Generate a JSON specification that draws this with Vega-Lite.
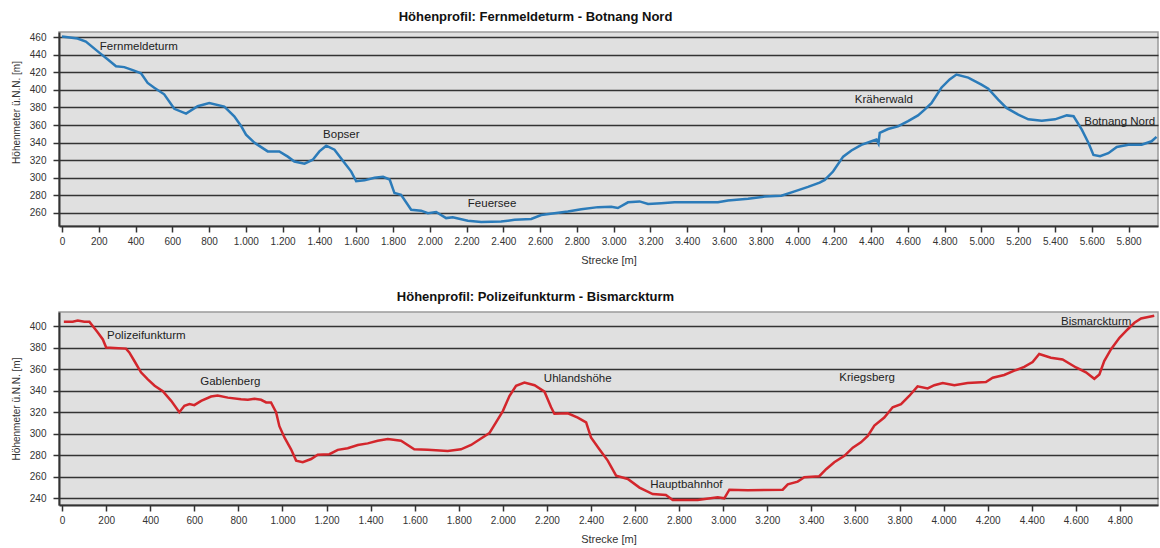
{
  "$schema": "https://vega.github.io/schema/vega-lite/v6.json",
  "background": "white",
  "padding": {"left": 10, "top": 10, "right": 2, "bottom": 0},
  "spacing": 24,
  "config": {
    "font": "Liberation Sans",
    "view": {"fill": "#e0e0e0", "stroke": "#9a9a9a", "strokeWidth": 1.5},
    "axis": {
      "labelFont": "Liberation Sans", "labelFontSize": 10, "labelColor": "#333333",
      "titleFont": "Liberation Sans", "titleFontSize": 10, "titleFontWeight": "normal", "titleColor": "#333333",
      "domainColor": "#333333", "domainWidth": 2, "tickColor": "#333333", "tickWidth": 1.5, "tickSize": 6,
      "tickCount": 60, "labelOverlap": false
    },
    "axisX": {"titleFontSize": 11},
    "title": {"font": "Liberation Sans", "fontSize": 13, "fontWeight": "bold", "color": "#111111"}
  },
  "datasets": {
    "top": [
      {"m":0,"h":461},{"m":85,"h":458.5},{"m":130,"h":455},{"m":203,"h":442.5},{"m":248,"h":435},{"m":294,"h":427},{"m":339,"h":426},{"m":385,"h":422.5},{"m":430,"h":419},{"m":466,"h":408},{"m":502,"h":402.5},{"m":556,"h":395},{"m":611,"h":378.5},{"m":675,"h":373},{"m":738,"h":381.5},{"m":801,"h":385},{"m":883,"h":381},{"m":937,"h":370},{"m":974,"h":359},{"m":1001,"h":349},{"m":1046,"h":340},{"m":1119,"h":330},{"m":1182,"h":330},{"m":1228,"h":324},{"m":1264,"h":318.5},{"m":1319,"h":316},{"m":1364,"h":320.5},{"m":1400,"h":330},{"m":1437,"h":336.5},{"m":1482,"h":332},{"m":1536,"h":317},{"m":1573,"h":307},{"m":1600,"h":296},{"m":1645,"h":297},{"m":1700,"h":300},{"m":1746,"h":301},{"m":1782,"h":298},{"m":1808,"h":282.5},{"m":1844,"h":280.5},{"m":1899,"h":263.5},{"m":1953,"h":262.5},{"m":1990,"h":259.5},{"m":2035,"h":261},{"m":2089,"h":254},{"m":2125,"h":255},{"m":2207,"h":251},{"m":2280,"h":249.5},{"m":2388,"h":250},{"m":2461,"h":252},{"m":2552,"h":253},{"m":2606,"h":257.5},{"m":2678,"h":259.5},{"m":2751,"h":261.5},{"m":2824,"h":264},{"m":2915,"h":266.5},{"m":2987,"h":267},{"m":3023,"h":265.5},{"m":3078,"h":272},{"m":3141,"h":273},{"m":3187,"h":270},{"m":3259,"h":271},{"m":3331,"h":272},{"m":3458,"h":272},{"m":3567,"h":272},{"m":3622,"h":274},{"m":3731,"h":276},{"m":3821,"h":278.5},{"m":3912,"h":279.5},{"m":3984,"h":284.5},{"m":4057,"h":289.5},{"m":4120,"h":294.5},{"m":4148,"h":297.5},{"m":4193,"h":307},{"m":4248,"h":324},{"m":4293,"h":331},{"m":4347,"h":337.5},{"m":4402,"h":341.5},{"m":4429,"h":343.5},{"m":4440,"h":339},{"m":4447,"h":351},{"m":4492,"h":355.5},{"m":4546,"h":358.5},{"m":4601,"h":364.5},{"m":4655,"h":371},{"m":4691,"h":377.5},{"m":4728,"h":385},{"m":4782,"h":402.5},{"m":4827,"h":412},{"m":4864,"h":417.5},{"m":4928,"h":414},{"m":5000,"h":406},{"m":5037,"h":401.5},{"m":5091,"h":389},{"m":5136,"h":379.5},{"m":5200,"h":372},{"m":5255,"h":366.5},{"m":5328,"h":365},{"m":5400,"h":366.5},{"m":5464,"h":371},{"m":5501,"h":370},{"m":5545,"h":355},{"m":5582,"h":339.5},{"m":5609,"h":326},{"m":5645,"h":324.5},{"m":5690,"h":328},{"m":5736,"h":335},{"m":5799,"h":337.5},{"m":5871,"h":337.5},{"m":5925,"h":341.5},{"m":5952,"h":346.5}
    ],
    "bottom": [
      {"m":8,"h":404},{"m":48,"h":404},{"m":71,"h":405},{"m":101,"h":404},{"m":124,"h":404},{"m":139,"h":400},{"m":162,"h":394},{"m":185,"h":387.5},{"m":200,"h":380},{"m":237,"h":379.5},{"m":290,"h":379},{"m":305,"h":375.5},{"m":328,"h":367.5},{"m":358,"h":357},{"m":389,"h":350.5},{"m":420,"h":344.5},{"m":457,"h":339.5},{"m":495,"h":330.5},{"m":532,"h":320},{"m":555,"h":326},{"m":578,"h":327.5},{"m":600,"h":326.5},{"m":631,"h":330.5},{"m":676,"h":334.5},{"m":706,"h":335.5},{"m":752,"h":333.5},{"m":812,"h":332},{"m":843,"h":331.5},{"m":873,"h":332.5},{"m":903,"h":331.5},{"m":926,"h":329},{"m":948,"h":329},{"m":971,"h":320},{"m":986,"h":307},{"m":1009,"h":296.5},{"m":1039,"h":285.5},{"m":1062,"h":275},{"m":1092,"h":273.5},{"m":1130,"h":276.5},{"m":1160,"h":280.5},{"m":1213,"h":281},{"m":1251,"h":285},{"m":1296,"h":286.5},{"m":1342,"h":289.5},{"m":1387,"h":291},{"m":1432,"h":293.5},{"m":1478,"h":295},{"m":1538,"h":293.5},{"m":1598,"h":285.5},{"m":1659,"h":285},{"m":1750,"h":284},{"m":1810,"h":285.5},{"m":1856,"h":289.5},{"m":1901,"h":295.5},{"m":1939,"h":300.5},{"m":1969,"h":310.5},{"m":2000,"h":321},{"m":2030,"h":335},{"m":2060,"h":344.5},{"m":2098,"h":347.5},{"m":2144,"h":345},{"m":2189,"h":339},{"m":2219,"h":324.5},{"m":2234,"h":318.5},{"m":2295,"h":319},{"m":2340,"h":315},{"m":2378,"h":310.5},{"m":2400,"h":296.5},{"m":2438,"h":285.5},{"m":2476,"h":275},{"m":2514,"h":261},{"m":2567,"h":258},{"m":2620,"h":250},{"m":2680,"h":244},{"m":2740,"h":243},{"m":2771,"h":238.5},{"m":2884,"h":238.5},{"m":2975,"h":241},{"m":3005,"h":240},{"m":3028,"h":248},{"m":3111,"h":247.5},{"m":3270,"h":248},{"m":3293,"h":253},{"m":3338,"h":255.5},{"m":3368,"h":259.5},{"m":3436,"h":260.5},{"m":3467,"h":267},{"m":3504,"h":273.5},{"m":3550,"h":279.5},{"m":3588,"h":287},{"m":3625,"h":292},{"m":3656,"h":298},{"m":3686,"h":307.5},{"m":3731,"h":315},{"m":3769,"h":324.5},{"m":3807,"h":327.5},{"m":3844,"h":335},{"m":3882,"h":344},{"m":3928,"h":342},{"m":3958,"h":345},{"m":3996,"h":347},{"m":4049,"h":345},{"m":4109,"h":347},{"m":4192,"h":348},{"m":4223,"h":352},{"m":4275,"h":354.5},{"m":4321,"h":358.5},{"m":4366,"h":362},{"m":4404,"h":366.5},{"m":4434,"h":374},{"m":4487,"h":370.5},{"m":4540,"h":369},{"m":4601,"h":361.5},{"m":4646,"h":357},{"m":4684,"h":351},{"m":4707,"h":355},{"m":4729,"h":367.5},{"m":4760,"h":378.5},{"m":4798,"h":389},{"m":4836,"h":397},{"m":4866,"h":403},{"m":4896,"h":407},{"m":4956,"h":409.5}
    ],
    "topLabels": [
      {"m":206,"h":449,"name":"Fernmeldeturm"},
      {"m":1420,"h":349,"name":"Bopser"},
      {"m":2207,"h":270,"name":"Feuersee"},
      {"m":4311,"h":389,"name":"Kräherwald"},
      {"m":5559,"h":363,"name":"Botnang Nord"}
    ],
    "bottomLabels": [
      {"m":204,"h":391,"name":"Polizeifunkturm"},
      {"m":627,"h":348.3,"name":"Gablenberg"},
      {"m":2186,"h":350.8,"name":"Uhlandshöhe"},
      {"m":2669,"h":252,"name":"Hauptbahnhof"},
      {"m":3527,"h":352,"name":"Kriegsberg"},
      {"m":4533,"h":404,"name":"Bismarckturm"}
    ]
  },
  "vconcat": [
    {
      "title": {"text": "Höhenprofil: Fernmeldeturm - Botnang Nord", "anchor": "middle", "dx": -73, "baseline": "alphabetic", "offset": -2},
      "width": 1099,
      "height": 194,
      "layer": [
        {
          "data": {"name": "top"},
          "mark": {"type": "line", "color": "#2b7bb9", "strokeWidth": 2.5, "clip": true},
          "encoding": {
            "x": {"field": "m", "type": "quantitative", "scale": {"domain": [-16, 5960], "nice": false, "zero": false},
                  "axis": {"title": "Strecke [m]", "values": [0,200,400,600,800,1000,1200,1400,1600,1800,2000,2200,2400,2600,2800,3000,3200,3400,3600,3800,4000,4200,4400,4600,4800,5000,5200,5400,5600,5800],
                           "labelExpr": "replace(format(datum.value, ','), ',', '.')", "grid": false, "labelPadding": 4, "titlePadding": 8}},
            "y": {"field": "h", "type": "quantitative", "scale": {"domain": [245, 466], "nice": false, "zero": false},
                  "axis": {"title": "Höhenmeter ü.N.N. [m]", "values": [260,280,300,320,340,360,380,400,420,440,460], "grid": true, "gridColor": "#333333", "gridWidth": 1.6, "labelPadding": 7, "titlePadding": 8, "titleY": 80}}
          }
        },
        {
          "data": {"name": "topLabels"},
          "mark": {"type": "text", "align": "left", "baseline": "middle", "fontSize": 11.5, "color": "#222222", "font": "Liberation Sans"},
          "encoding": {
            "x": {"field": "m", "type": "quantitative"},
            "y": {"field": "h", "type": "quantitative"},
            "text": {"field": "name"}
          }
        }
      ]
    },
    {
      "title": {"text": "Höhenprofil: Polizeifunkturm - Bismarckturm", "anchor": "middle", "dx": -73, "baseline": "alphabetic", "offset": -2},
      "width": 1099,
      "height": 193,
      "layer": [
        {
          "data": {"name": "bottom"},
          "mark": {"type": "line", "color": "#d3262c", "strokeWidth": 2.5, "clip": true},
          "encoding": {
            "x": {"field": "m", "type": "quantitative", "scale": {"domain": [-14, 4973], "nice": false, "zero": false},
                  "axis": {"title": "Strecke [m]", "values": [0,200,400,600,800,1000,1200,1400,1600,1800,2000,2200,2400,2600,2800,3000,3200,3400,3600,3800,4000,4200,4400,4600,4800],
                           "labelExpr": "replace(format(datum.value, ','), ',', '.')", "grid": false, "labelPadding": 4, "titlePadding": 8}},
            "y": {"field": "h", "type": "quantitative", "scale": {"domain": [233.8, 413], "nice": false, "zero": false},
                  "axis": {"title": "Höhenmeter ü.N.N. [m]", "values": [240,260,280,300,320,340,360,380,400], "grid": true, "gridColor": "#333333", "gridWidth": 1.6, "labelPadding": 7, "titlePadding": 8}}
          }
        },
        {
          "data": {"name": "bottomLabels"},
          "mark": {"type": "text", "align": "left", "baseline": "middle", "fontSize": 11.5, "color": "#222222", "font": "Liberation Sans"},
          "encoding": {
            "x": {"field": "m", "type": "quantitative"},
            "y": {"field": "h", "type": "quantitative"},
            "text": {"field": "name"}
          }
        }
      ]
    }
  ]
}
